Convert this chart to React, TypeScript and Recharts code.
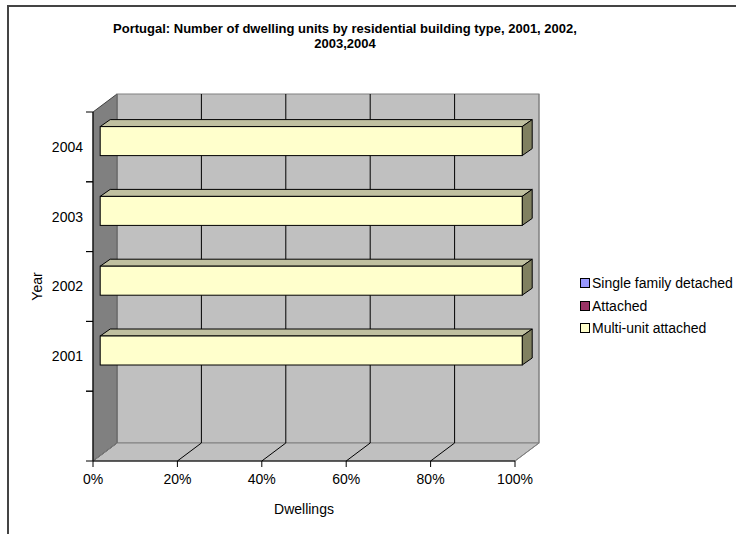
import React from 'react';
import { BarChart, Bar, XAxis, YAxis, CartesianGrid, Legend } from 'recharts';

// values (share of dwellings, %), bottom category is the blank row of the sheet
const years = ['', '2001', '2002', '2003', '2004'];
const singleFamilyDetached = [0, 0, 0, 0, 0];
const attached = [0, 0, 0, 0, 0];
const multiUnitAttached = [0, 100, 100, 100, 100];
const percentTicks = [0, 20, 40, 60, 80, 100];
const seriesNames = ['Single family detached', 'Attached', 'Multi-unit attached'];

const data = years.map((year, i) => ({
  year,
  single: singleFamilyDetached[i],
  attached: attached[i],
  multi: multiUnitAttached[i],
}));

const FONT = '"Liberation Sans", Arial, sans-serif';
const CHART_W = 736;
const CHART_H = 534;
const MARGIN = { top: 112, right: 221, bottom: 13, left: 23 };
const Y_AXIS_W = 70;
const X_AXIS_H = 60;
const PLOT_LEFT = MARGIN.left + Y_AXIS_W;
const PLOT_RIGHT = CHART_W - MARGIN.right;

// 3d look
const DEPTH_X = 24;
const DEPTH_Y = -18;
const BAR_SHIFT = 0.3;
const BAR_DX = 10;
const BAR_DY = -7;

const Box3D = (props: any) => {
  const { x, y, width, height, fill, topFill, sideFill } = props;
  if (!width || width <= 0) return null;
  const fx = x + DEPTH_X * BAR_SHIFT;
  const fy = y + DEPTH_Y * BAR_SHIFT;
  const r = fx + width;
  return (
    <g>
      <polygon
        points={`${fx},${fy} ${fx + BAR_DX},${fy + BAR_DY} ${r + BAR_DX},${fy + BAR_DY} ${r},${fy}`}
        fill={topFill}
        stroke="#000"
      />
      <polygon
        points={`${r},${fy} ${r + BAR_DX},${fy + BAR_DY} ${r + BAR_DX},${fy + height + BAR_DY} ${r},${fy + height}`}
        fill={sideFill}
        stroke="#000"
      />
      <rect x={fx} y={fy} width={width} height={height} fill={fill} stroke="#000" />
    </g>
  );
};

// walls + floor are drawn with the first grid line, then every line goes on the back wall and floor
const gridLine = (props: any) => {
  const { x1, y1, y2, index, key } = props;
  const edge = Math.abs(x1 - PLOT_LEFT) < 0.5 || Math.abs(x1 - PLOT_RIGHT) < 0.5;
  const stroke = edge ? '#808080' : '#000';
  const bx = x1 + DEPTH_X;
  return (
    <g key={key}>
      {index === 0 && (
        <g>
          <rect
            x={PLOT_LEFT + DEPTH_X}
            y={y1 + DEPTH_Y}
            width={PLOT_RIGHT - PLOT_LEFT}
            height={y2 - y1}
            fill="#C0C0C0"
            stroke="#808080"
          />
          <polygon
            points={`${PLOT_LEFT},${y2} ${PLOT_RIGHT},${y2} ${PLOT_RIGHT + DEPTH_X},${y2 + DEPTH_Y} ${PLOT_LEFT + DEPTH_X},${y2 + DEPTH_Y}`}
            fill="#C0C0C0"
            stroke="#808080"
          />
          <polygon
            points={`${PLOT_LEFT},${y1} ${PLOT_LEFT + DEPTH_X},${y1 + DEPTH_Y} ${PLOT_LEFT + DEPTH_X},${y2 + DEPTH_Y} ${PLOT_LEFT},${y2}`}
            fill="#808080"
            stroke="#404040"
          />
        </g>
      )}
      <line x1={bx} y1={y1 + DEPTH_Y} x2={bx} y2={y2 + DEPTH_Y} stroke={stroke} />
      <line x1={x1} y1={y2} x2={bx} y2={y2 + DEPTH_Y} stroke={stroke} />
    </g>
  );
};

const YearTick = (props: any) => {
  const { x, y, payload } = props;
  const half = payload && payload.offset ? payload.offset : 35;
  const c = payload.coordinate ?? y;
  return (
    <g>
      <line x1={x + 3} x2={x + 10} y1={c - half} y2={c - half} stroke="#000" />
      <line x1={x + 3} x2={x + 10} y1={c + half} y2={c + half} stroke="#000" />
      <text x={x} y={y} dy="0.355em" textAnchor="end" fill="#000" fontSize={14} fontFamily={FONT}>
        {payload.value}
      </text>
    </g>
  );
};

const YearLabel = (props: any) => {
  const { viewBox } = props;
  const cx = viewBox.x + 14.5;
  const cy = viewBox.y + viewBox.height / 2;
  return (
    <text
      x={cx}
      y={cy}
      transform={`rotate(-90 ${cx} ${cy})`}
      textAnchor="middle"
      dy="0.355em"
      fill="#000"
      fontSize={14}
      fontFamily={FONT}
    >
      Year
    </text>
  );
};

const LegendBox = ({ payload }: any) => {
  const items = [...(payload || [])].sort(
    (a: any, b: any) => seriesNames.indexOf(a.value) - seriesNames.indexOf(b.value)
  );
  return (
    <div style={{ fontFamily: FONT, fontSize: 14, color: '#000' }}>
      {items.map((item: any) => (
        <div key={item.value} style={{ display: 'flex', alignItems: 'center', height: 22.5, whiteSpace: 'nowrap' }}>
          <span
            style={{
              display: 'inline-block',
              width: 8,
              height: 8,
              background: item.color,
              border: '1px solid #000',
              marginRight: 2,
            }}
          />
          {item.value}
        </div>
      ))}
    </div>
  );
};

export default function App() {
  return (
    <div style={{ position: 'absolute', left: 0, top: 0, width: CHART_W, height: CHART_H, overflow: 'hidden', background: '#fff' }}>
      <div
        style={{
          position: 'absolute',
          left: 7,
          top: 5,
          width: 729,
          height: 529,
          borderLeft: '2px solid #444',
          borderTop: '2px solid #444',
        }}
      />
      <div
        style={{
          position: 'absolute',
          left: 0,
          top: 21,
          width: 690,
          textAlign: 'center',
          fontFamily: FONT,
          fontWeight: 'bold',
          fontSize: 13,
          lineHeight: '15px',
          color: '#000',
          zIndex: 2,
        }}
      >
        Portugal: Number of dwelling units by residential building type, 2001, 2002,
        <br />
        2003,2004
      </div>
      <BarChart width={CHART_W} height={CHART_H} data={data} layout="vertical" margin={MARGIN} barSize={29}>
        <CartesianGrid horizontal={false} vertical={gridLine} />
        <XAxis
          type="number"
          domain={[0, 100]}
          ticks={percentTicks}
          tickFormatter={(v) => `${v}%`}
          height={X_AXIS_H}
          tickSize={6}
          tickMargin={7}
          axisLine={{ stroke: '#000' }}
          tickLine={{ stroke: '#000' }}
          tick={{ fill: '#000', fontSize: 14, fontFamily: FONT }}
          label={{ value: 'Dwellings', position: 'insideBottom', offset: 7, fill: '#000', fontSize: 14, fontFamily: FONT }}
        />
        <YAxis
          type="category"
          dataKey="year"
          reversed
          width={Y_AXIS_W}
          interval={0}
          tickSize={7}
          tickMargin={3}
          tickLine={false}
          axisLine={{ stroke: '#000' }}
          tick={<YearTick />}
          label={<YearLabel />}
        />
        <Legend
          layout="vertical"
          align="center"
          verticalAlign="middle"
          content={<LegendBox />}
          wrapperStyle={{ left: 580, top: 272, width: 156 }}
        />
        <Bar
          dataKey="single"
          name={seriesNames[0]}
          stackId="a"
          fill="#9999FF"
          isAnimationActive={false}
          shape={(p: any) => <Box3D {...p} topFill="#7373BF" sideFill="#4C4C80" />}
        />
        <Bar
          dataKey="attached"
          name={seriesNames[1]}
          stackId="a"
          fill="#993366"
          isAnimationActive={false}
          shape={(p: any) => <Box3D {...p} topFill="#73264C" sideFill="#4C1933" />}
        />
        <Bar
          dataKey="multi"
          name={seriesNames[2]}
          stackId="a"
          fill="#FFFFCC"
          isAnimationActive={false}
          shape={(p: any) => <Box3D {...p} topFill="#C0C0A0" sideFill="#808060" />}
        />
      </BarChart>
    </div>
  );
}
